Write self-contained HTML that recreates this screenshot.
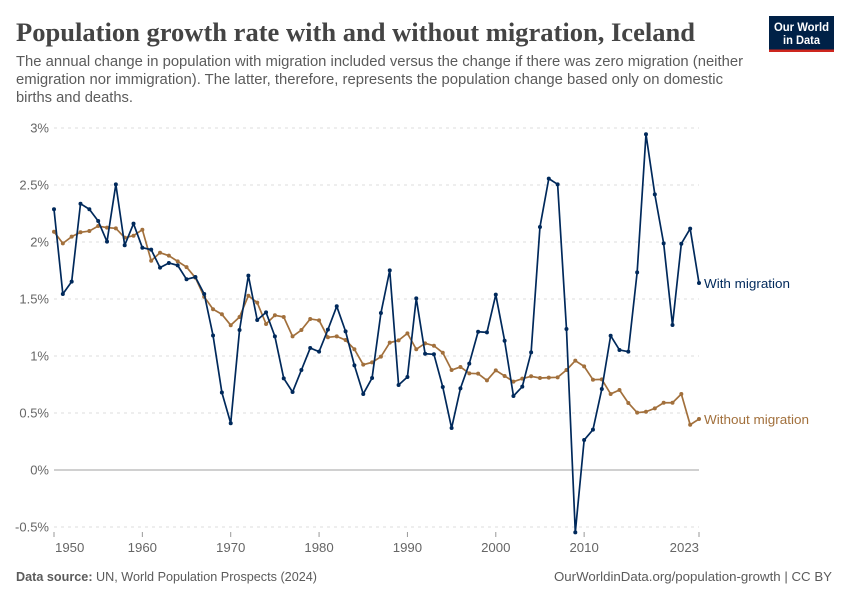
<!DOCTYPE html>
<html lang="en">
<head>
<meta charset="utf-8">
<title>Population growth rate with and without migration, Iceland</title>
<style>
html,body{margin:0;padding:0;background:#fff;}
svg{display:block;font-family:"Liberation Sans",sans-serif;}
</style>
</head>
<body>
<svg id="chart" width="850" height="600" viewBox="0 0 850 600" xmlns="http://www.w3.org/2000/svg">
  <rect x="0" y="0" width="850" height="600" fill="#fff"/>
  <text x="16" y="41" font-family="'Liberation Serif',serif" font-weight="700" font-size="26" fill="#444" textLength="679" lengthAdjust="spacingAndGlyphs">Population growth rate with and without migration, Iceland</text>
  <g font-size="14.4" fill="#5b5b5b">
    <text x="16" y="66" textLength="727" lengthAdjust="spacingAndGlyphs">The annual change in population with migration included versus the change if there was zero migration (neither</text>
    <text x="16" y="84" textLength="707" lengthAdjust="spacingAndGlyphs">emigration nor immigration). The latter, therefore, represents the population change based only on domestic</text>
    <text x="16" y="102" textLength="117" lengthAdjust="spacingAndGlyphs">births and deaths.</text>
  </g>
  <a>
    <rect x="769" y="16" width="65" height="36" fill="#002147"/>
    <rect x="769" y="49.5" width="65" height="2.5" fill="#ce261e"/>
    <text x="801.5" y="31" text-anchor="middle" font-size="12" font-weight="700" fill="#fff" textLength="55" lengthAdjust="spacingAndGlyphs">Our World</text>
    <text x="801.5" y="44" text-anchor="middle" font-size="12" font-weight="700" fill="#fff" textLength="37" lengthAdjust="spacingAndGlyphs">in Data</text>
  </a>
  <g id="grid"></g>
  <g id="yLabels" font-size="13" fill="#666" text-anchor="end"></g>
  <g id="xAxis" font-size="13.2" fill="#666"></g>
  <g id="series"></g>
  <text x="704" y="288" font-size="13" fill="#00295b" textLength="86" lengthAdjust="spacingAndGlyphs">With migration</text>
  <text x="704" y="424" font-size="13" fill="#a2703c" textLength="105" lengthAdjust="spacingAndGlyphs">Without migration</text>
  <text x="16" y="581" font-size="13" fill="#5b5b5b" textLength="301" lengthAdjust="spacingAndGlyphs"><tspan font-weight="700">Data source:</tspan> UN, World Population Prospects (2024)</text>
  <a>
    <text x="832" y="581" font-size="13" fill="#5b5b5b" text-anchor="end" textLength="278" lengthAdjust="spacingAndGlyphs">OurWorldinData.org/population-growth | CC BY</text>
  </a>
</svg>
<script>
const startYear = 1950;
const withMigration = [
  2.287,1.544,1.652,2.336,2.287,2.184,2.003,2.506,1.971,2.161,
  1.95,1.933,1.775,1.816,1.795,1.673,1.693,1.544,1.18,0.68,
  0.41,1.228,1.705,1.316,1.383,1.172,0.804,0.684,0.877,1.07,
  1.038,1.231,1.436,1.216,0.918,0.667,0.807,1.377,1.751,0.746,
  0.816,1.506,1.02,1.015,0.728,0.368,0.716,0.933,1.213,1.207,
  1.538,1.134,0.649,0.731,1.032,2.132,2.556,2.506,1.237,-0.547,
  0.263,0.354,0.71,1.178,1.053,1.038,1.734,2.945,2.418,1.988,
  1.272,1.985,2.117,1.64
];
const withoutMigration = [
  2.09,1.988,2.047,2.085,2.096,2.14,2.126,2.12,2.038,2.055,
  2.108,1.836,1.906,1.88,1.83,1.78,1.687,1.52,1.41,1.366,
  1.27,1.342,1.529,1.468,1.281,1.357,1.342,1.172,1.228,1.325,
  1.313,1.164,1.172,1.14,1.059,0.924,0.944,0.994,1.117,1.137,
  1.199,1.059,1.111,1.09,1.029,0.877,0.904,0.848,0.845,0.786,
  0.874,0.825,0.775,0.801,0.822,0.807,0.81,0.813,0.877,0.959,
  0.909,0.792,0.795,0.667,0.702,0.588,0.503,0.511,0.541,0.59,
  0.59,0.667,0.397,0.447
];
const yTickValues = [-0.5,0,0.5,1,1.5,2,2.5,3];
const yTickLabels = ['-0.5%','0%','0.5%','1%','1.5%','2%','2.5%','3%'];
const xTickYears = [1950,1960,1970,1980,1990,2000,2010,2023];
const xTickLabels = ['1950','1960','1970','1980','1990','2000','2010','2023'];

const SVG_NS = 'http://www.w3.org/2000/svg';
const plotLeft = 54, plotRight = 699, zeroY = 470, pxPerUnit = 114;
const endYear = startYear + withMigration.length - 1;
function xScale(year) {
  return plotLeft + (year - startYear) * (plotRight - plotLeft) / (endYear - startYear);
}
function yScale(value) {
  return zeroY - value * pxPerUnit;
}
function make(tag, attrs) {
  const el = document.createElementNS(SVG_NS, tag);
  for (const k in attrs) el.setAttribute(k, attrs[k]);
  return el;
}

const gridGroup = document.getElementById('grid');
const yLabelGroup = document.getElementById('yLabels');
yTickValues.forEach(function (v, i) {
  const y = yScale(v);
  const isZero = v === 0;
  const line = make('line', {
    x1: plotLeft, x2: plotRight, y1: y, y2: y,
    stroke: isZero ? '#a1a1a1' : '#dddddd',
    'stroke-width': 1,
    'stroke-dasharray': isZero ? 'none' : '3,4'
  });
  
  
  gridGroup.appendChild(line);
  const label = make('text', { x: 49, y: y + 4.5 });
  label.textContent = yTickLabels[i];
  
  
  yLabelGroup.appendChild(label);
});

const xGroup = document.getElementById('xAxis');
xTickYears.forEach(function (year, i) {
  const x = xScale(year);
  const tick = make('line', { x1: x, x2: x, y1: 532, y2: 537, stroke: '#999', 'stroke-width': 1 });
  
  
  xGroup.appendChild(tick);
  const first = i === 0;
  const last = i === xTickYears.length - 1;
  const label = make('text', {
    x: first ? x + 1 : x,
    y: 552,
    'text-anchor': first ? 'start' : (last ? 'end' : 'middle')
  });
  label.textContent = xTickLabels[i];
  
  
  xGroup.appendChild(label);
});

function drawSeries(values, color, seriesName) {
  const group = make('g', {});
  
  
  const points = values.map(function (v, i) {
    return xScale(startYear + i).toFixed(2) + ',' + yScale(v).toFixed(2);
  }).join(' ');
  const line = make('polyline', {
    points: points, fill: 'none', stroke: color,
    'stroke-width': 1.7, 'stroke-linejoin': 'round'
  });
  
  
  group.appendChild(line);
  values.forEach(function (v, i) {
    const dot = make('circle', {
      cx: xScale(startYear + i), cy: yScale(v), r: 2, fill: color
    });
    
    
    group.appendChild(dot);
  });
  document.getElementById('series').appendChild(group);
}
drawSeries(withoutMigration, '#a2703c', 'without-migration-series');
drawSeries(withMigration, '#00295b', 'with-migration-series');
</script>
</body>
</html>
